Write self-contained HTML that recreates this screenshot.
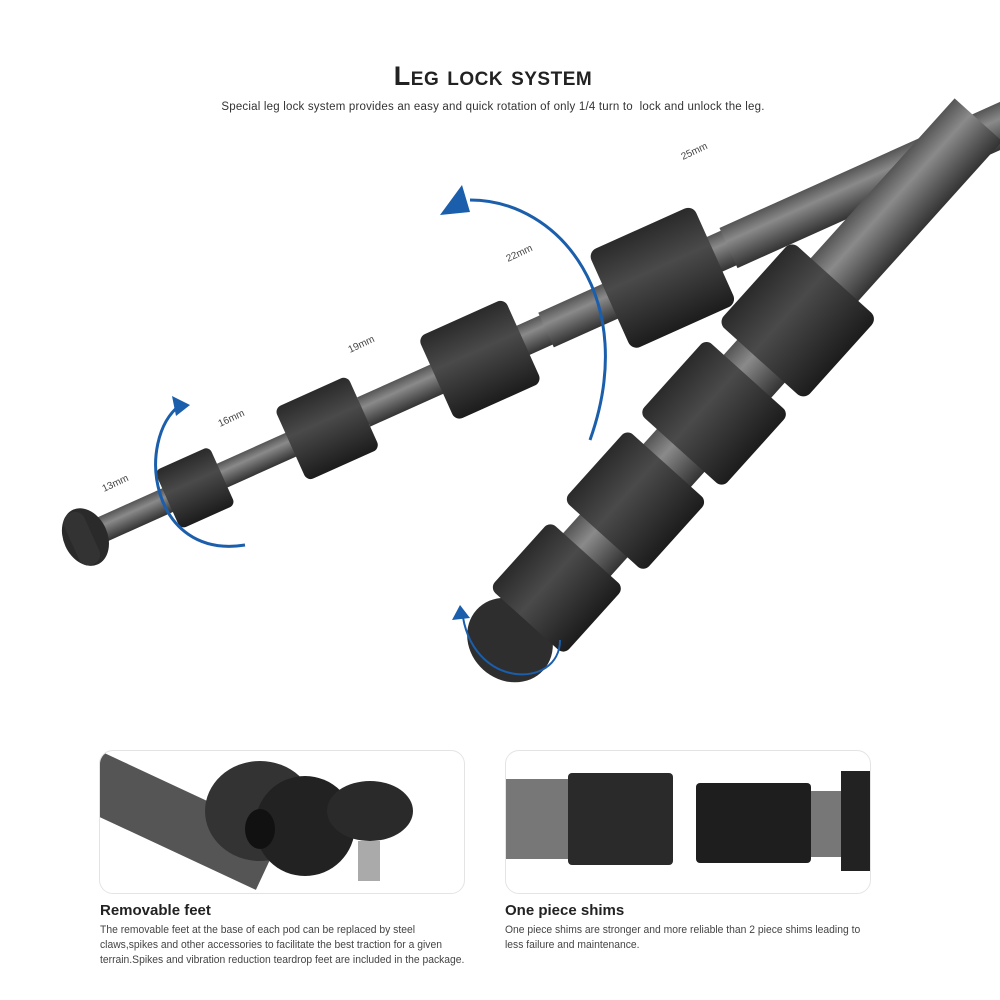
<!DOCTYPE html>
<html><head><style>
body{margin:0;background:#fff;width:1000px;height:1000px;overflow:hidden;position:relative;font-family:"Liberation Sans",sans-serif}
.t{position:absolute;left:0;width:1000px;text-align:center}
.card{position:absolute;border:1px solid #e4e4e4;border-radius:14px;background:#fff;overflow:hidden}
.h{position:absolute;font-size:15px;font-weight:bold;color:#222}
.p{position:absolute;font-size:11px;color:#444;line-height:15px;white-space:nowrap;transform:scaleX(0.94);transform-origin:0 0}
</style></head><body>
<div class="t" style="top:61px;left:-7px;font-size:27px;font-weight:bold;color:#222;letter-spacing:0.5px;font-variant:small-caps">Leg lock system</div>
<div class="t" style="top:101px;left:-7px;font-size:11.5px;color:#333;letter-spacing:0.2px">Special leg lock system provides an easy and quick rotation of only 1/4 turn to&nbsp; lock and unlock the leg.</div>
<svg width="1000" height="740" style="position:absolute;left:0;top:0">
<defs>
<linearGradient id="tube" x1="0" y1="0" x2="0" y2="1"><stop offset="0" stop-color="#555"/><stop offset=".35" stop-color="#8a8a8a"/><stop offset=".7" stop-color="#5a5a5a"/><stop offset="1" stop-color="#333"/></linearGradient>
<linearGradient id="col" x1="0" y1="0" x2="0" y2="1"><stop offset="0" stop-color="#2a2a2a"/><stop offset=".4" stop-color="#4a4a4a"/><stop offset="1" stop-color="#1c1c1c"/></linearGradient>
</defs>
<g transform="translate(90,535) rotate(-24.2)">
<rect x="0" y="-13" width="1010" height="26" fill="url(#tube)"/>
<rect x="300" y="-16" width="720" height="32" fill="url(#tube)"/>
<rect x="500" y="-19" width="520" height="38" fill="url(#tube)"/>
<rect x="700" y="-22" width="320" height="44" fill="url(#tube)"/>
<ellipse cx="-5" cy="0" rx="22" ry="30" fill="#2a2a2a"/>
<rect x="-20" y="-28" width="22" height="56" rx="10" fill="#333"/>
<rect x="85" y="-32" width="60" height="64" rx="6" fill="url(#col)"/>
<rect x="220" y="-40" width="80" height="80" rx="7" fill="url(#col)"/>
<rect x="380" y="-46" width="95" height="92" rx="8" fill="url(#col)"/>
<rect x="570" y="-54" width="115" height="108" rx="9" fill="url(#col)"/>
</g>
<g transform="translate(510,640) rotate(-48)">
<rect x="0" y="-32" width="700" height="64" fill="url(#tube)"/>
<ellipse cx="0" cy="0" rx="40" ry="45" fill="#2e2e2e"/>
<rect x="25" y="-50" width="90" height="100" rx="8" fill="url(#col)"/>
<rect x="140" y="-54" width="95" height="108" rx="8" fill="url(#col)"/>
<rect x="255" y="-56" width="100" height="112" rx="8" fill="url(#col)"/>
<rect x="375" y="-58" width="110" height="116" rx="9" fill="url(#col)"/>
</g>
<g fill="none" stroke="#1b5eab" stroke-width="3">
<path d="M245 545 C 150 560 135 440 180 405"/>
<path d="M590 440 C 640 300 560 200 470 200" />
<path d="M560 640 C 560 690 470 690 462 610" stroke-width="2"/>
</g>
<polygon points="190,405 172,396 176,416" fill="#1b5eab"/>
<polygon points="440,215 462,185 470,212" fill="#1b5eab"/>
<polygon points="460,605 470,618 452,620" fill="#1b5eab"/>
<g font-size="10" fill="#444">
<text x="104" y="492" transform="rotate(-25 104 492)">13mm</text>
<text x="220" y="427" transform="rotate(-25 220 427)">16mm</text>
<text x="350" y="353" transform="rotate(-25 350 353)">19mm</text>
<text x="508" y="262" transform="rotate(-25 508 262)">22mm</text>
<text x="683" y="160" transform="rotate(-25 683 160)">25mm</text>
</g>
</svg>
<div class="card" style="left:99px;top:750px;width:364px;height:142px">
<svg width="364" height="142">
<rect x="0" y="0" width="200" height="60" fill="#555" transform="rotate(25)"/>
<ellipse cx="160" cy="60" rx="55" ry="50" fill="#333"/>
<ellipse cx="205" cy="75" rx="50" ry="50" fill="#222"/>
<ellipse cx="160" cy="78" rx="15" ry="20" fill="#111"/>
<ellipse cx="270" cy="60" rx="43" ry="30" fill="#2a2a2a"/>
<rect x="258" y="90" width="22" height="40" fill="#aaa"/>
</svg></div>
<div class="card" style="left:505px;top:750px;width:364px;height:142px">
<svg width="364" height="142">
<rect x="0" y="28" width="70" height="80" fill="#777"/>
<rect x="62" y="22" width="105" height="92" rx="4" fill="#2a2a2a"/>
<rect x="190" y="32" width="115" height="80" rx="4" fill="#1e1e1e"/>
<rect x="305" y="40" width="40" height="66" fill="#777"/>
<rect x="335" y="20" width="30" height="100" fill="#222"/>
</svg></div>
<div class="h" style="left:100px;top:902px">Removable feet</div>
<div class="p" style="left:100px;top:923px">The removable feet at the base of each pod can be replaced by steel<br>claws,spikes and other accessories to facilitate the best traction for a given<br>terrain.Spikes and vibration reduction teardrop feet are included in the package.</div>
<div class="h" style="left:505px;top:902px">One piece shims</div>
<div class="p" style="left:505px;top:923px">One piece shims are stronger and more reliable than 2 piece shims leading to<br>less failure and maintenance.</div>
</body></html>
